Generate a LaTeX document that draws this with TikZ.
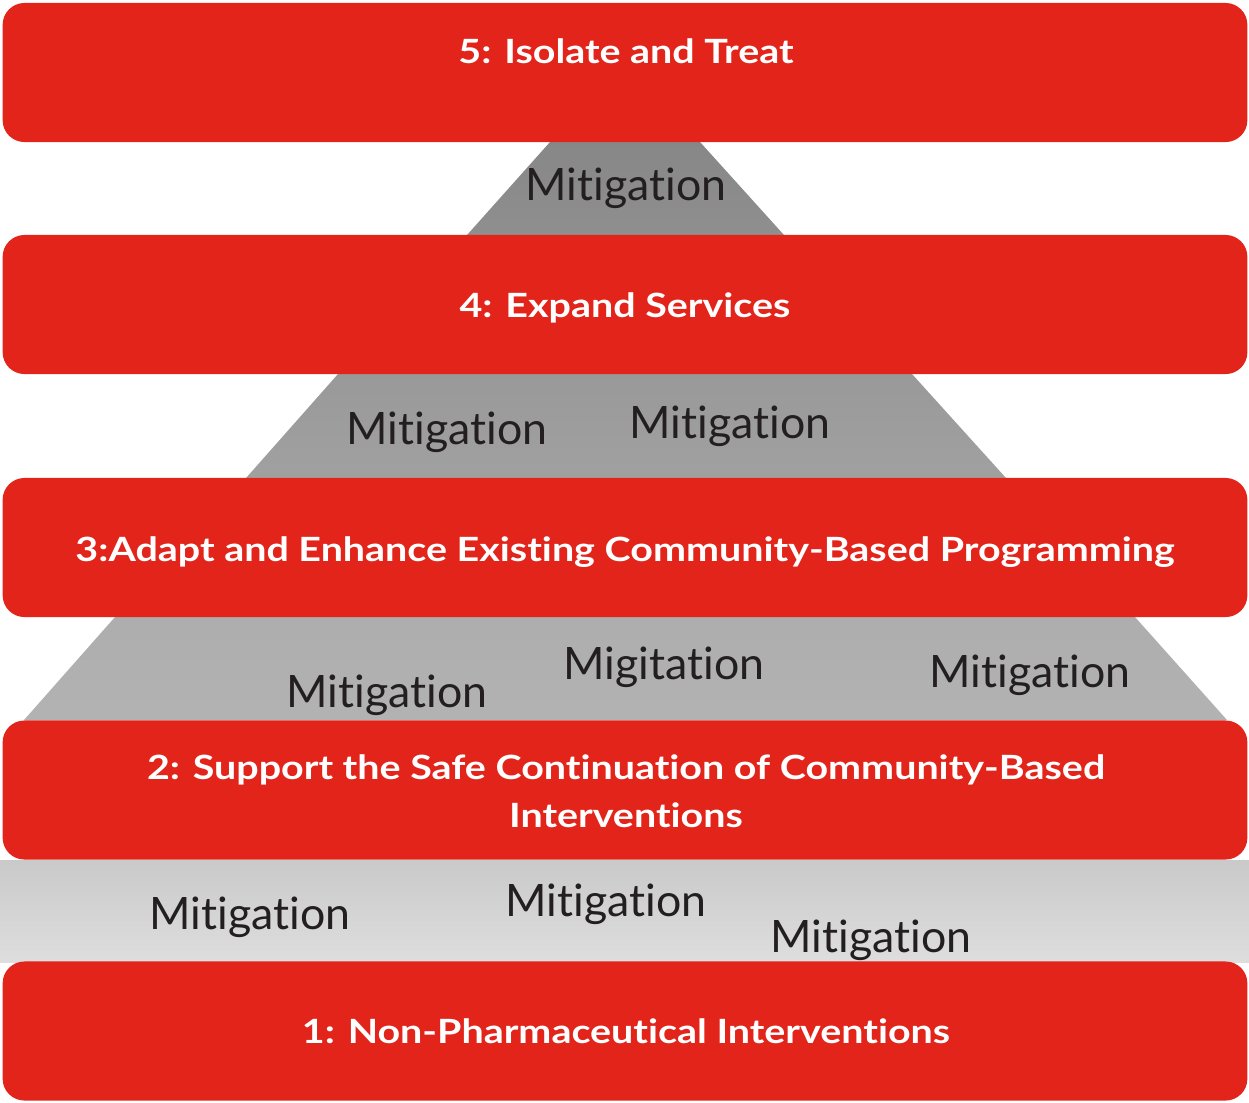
\documentclass[tikz,border=0pt]{standalone}
\usepackage{fontspec}
\setmainfont{Lato}[Ligatures=NoCommon]
\newfontfamily\barfont{Lato}[Ligatures=NoCommon, FakeStretch=1.18]
\usetikzlibrary{positioning}
\usepackage{xcolor}
\definecolor{cred}{HTML}{E2241A}
\definecolor{cink}{HTML}{231F20}

\begin{document}
\begin{tikzpicture}[x=0.01cm, y=-0.01cm,
  bar/.style={fill=cred, rounded corners=6.2pt, minimum width=12.44cm,
              minimum height=1.39cm, inner sep=0pt},
  bartext/.style={text=white, font=\barfont\fontsize{9.5}{13.4}\selectfont\bfseries,
                  anchor=base, inner sep=0pt, align=center},
  mitig/.style={text=cink, font=\fontsize{12.7}{15}\selectfont,
                anchor=base, inner sep=0pt}
]
  \useasboundingbox (0,0) rectangle (1249,1102);

  % grey pyramid behind the bars
  \shade[top color=black!47, bottom color=black!44]
    (550,142) -- (700,142) -- (784,235) -- (467,235) -- cycle;
  \shade[top color=black!40, bottom color=black!37]
    (338,374) -- (912,374) -- (1006,478) -- (246,478) -- cycle;
  \shade[top color=black!32, bottom color=black!30]
    (115,617) -- (1135,617) -- (1227,720) -- (24,720) -- cycle;
  \shade[top color=black!21, bottom color=black!13]
    (0,860) rectangle (1249,962);

  % levels
  \node[bar] (b5) at (625,72.5) {};
  \node[bar] (b4) at (625,304.5) {};
  \node[bar] (b3) at (625,547.5) {};
  \node[bar] (b2) at (625,790) {};
  \node[bar] (b1) at (625,1031) {};

  \node[bartext] (t5) at (626,63) {5: Isolate and Treat};
  \node[bartext] (t4) at (625,317) {4: Expand Services};
  \node[bartext] (t3) at (625,561) {3:Adapt and Enhance Existing Community-Based Programming};
  \node[bartext] (t2) at (626,827) {2: Support the Safe Continuation of Community-Based\\Interventions};
  \node[bartext] (t1) at (626,1043) {1: Non-Pharmaceutical Interventions};

  % mitigation labels
  \node[mitig] (m1) at (626,200) {Mitigation};
  \node[mitig] (m2) at (447,444) {Mitigation};
  \node[mitig] (m3) at (730,438) {Mitigation};
  \node[mitig] (m4) at (387,707) {Mitigation};
  \node[mitig] (m5) at (664,679) {Migitation};
  \node[mitig] (m6) at (1030,687) {Mitigation};
  \node[mitig] (m7) at (250,929) {Mitigation};
  \node[mitig] (m8) at (606,916) {Mitigation};
  \node[mitig] (m9) at (871,952) {Mitigation};
\end{tikzpicture}
\end{document}
